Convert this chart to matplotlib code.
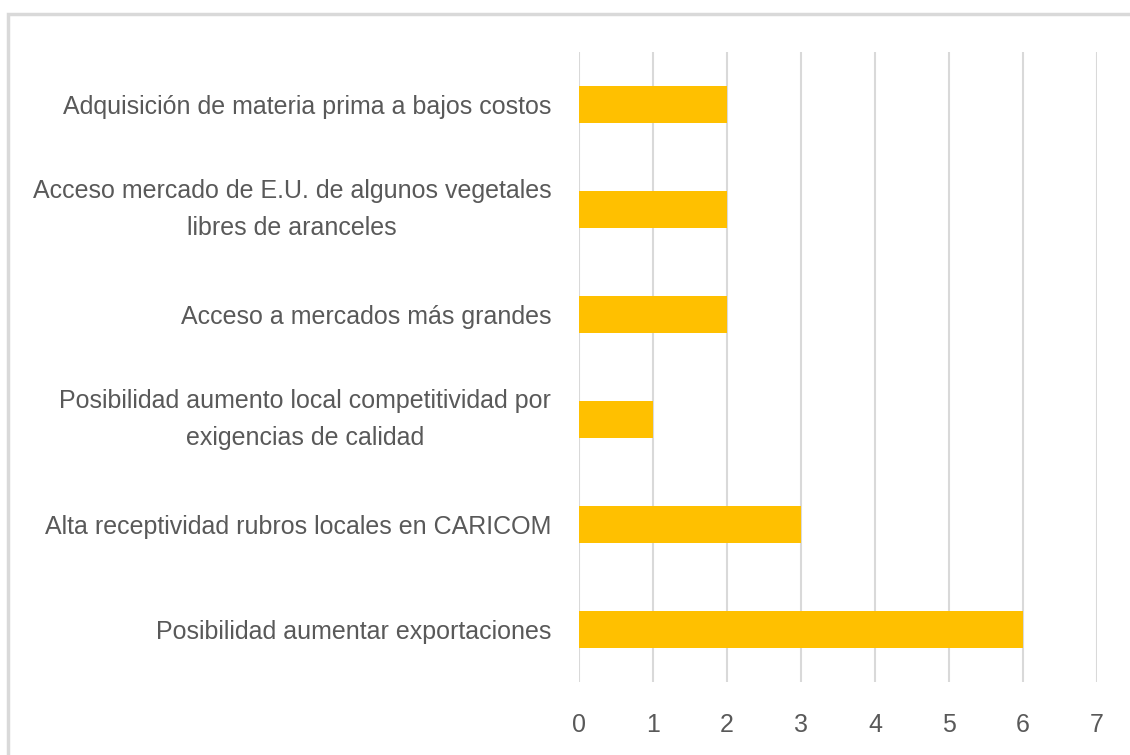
import matplotlib.pyplot as plt
from matplotlib.patches import Rectangle

categorias = [
    "Posibilidad aumentar exportaciones",
    "Alta receptividad rubros locales en CARICOM",
    "Posibilidad aumento local competitividad por\nexigencias de calidad",
    "Acceso a mercados más grandes",
    "Acceso mercado de E.U. de algunos vegetales\nlibres de aranceles",
    "Adquisición de materia prima a bajos costos",
]
valores = [6, 3, 1, 2, 2, 2]
ticks_x = [0, 1, 2, 3, 4, 5, 6, 7]

plt.rcParams['font.family'] = ['Liberation Sans', 'DejaVu Sans']

fig = plt.figure(figsize=(11.3, 7.55), dpi=100)
ax = fig.add_axes([579 / 1130, 1 - 682 / 755, (1097 - 579) / 1130, (682 - 52) / 755])

posiciones = list(range(len(categorias)))
ax.barh(posiciones, valores, height=0.36, color='#FFC000', zorder=3)

ax.set_xlim(0, 7)
ax.set_ylim(-0.5, len(categorias) - 0.5)
ax.set_xticks(ticks_x)
ax.set_yticks(posiciones)
etiquetas = ax.set_yticklabels(categorias, multialignment='center', linespacing=1.65)
# las etiquetas de dos líneas se centran en bloque sobre la barra
for et in etiquetas:
    if '\n' in et.get_text():
        et.set_verticalalignment('center')

ax.grid(axis='x', color='#D9D9D9', linewidth=1.5, zorder=0)
ax.grid(axis='y', visible=False)
for s in ax.spines.values():
    s.set_visible(False)

ax.tick_params(axis='both', length=0, colors='#595959', labelsize=18)
ax.tick_params(axis='x', pad=22)
ax.tick_params(axis='y', pad=20)

# marco del gráfico
fig.patches.append(Rectangle((8 / 1130, -0.1), 1.2, 1 - 14 / 755 + 0.1,
                             transform=fig.transFigure, fill=False,
                             edgecolor='#D9D9D9', linewidth=2.5))

fig.savefig('out.png', dpi=100)
